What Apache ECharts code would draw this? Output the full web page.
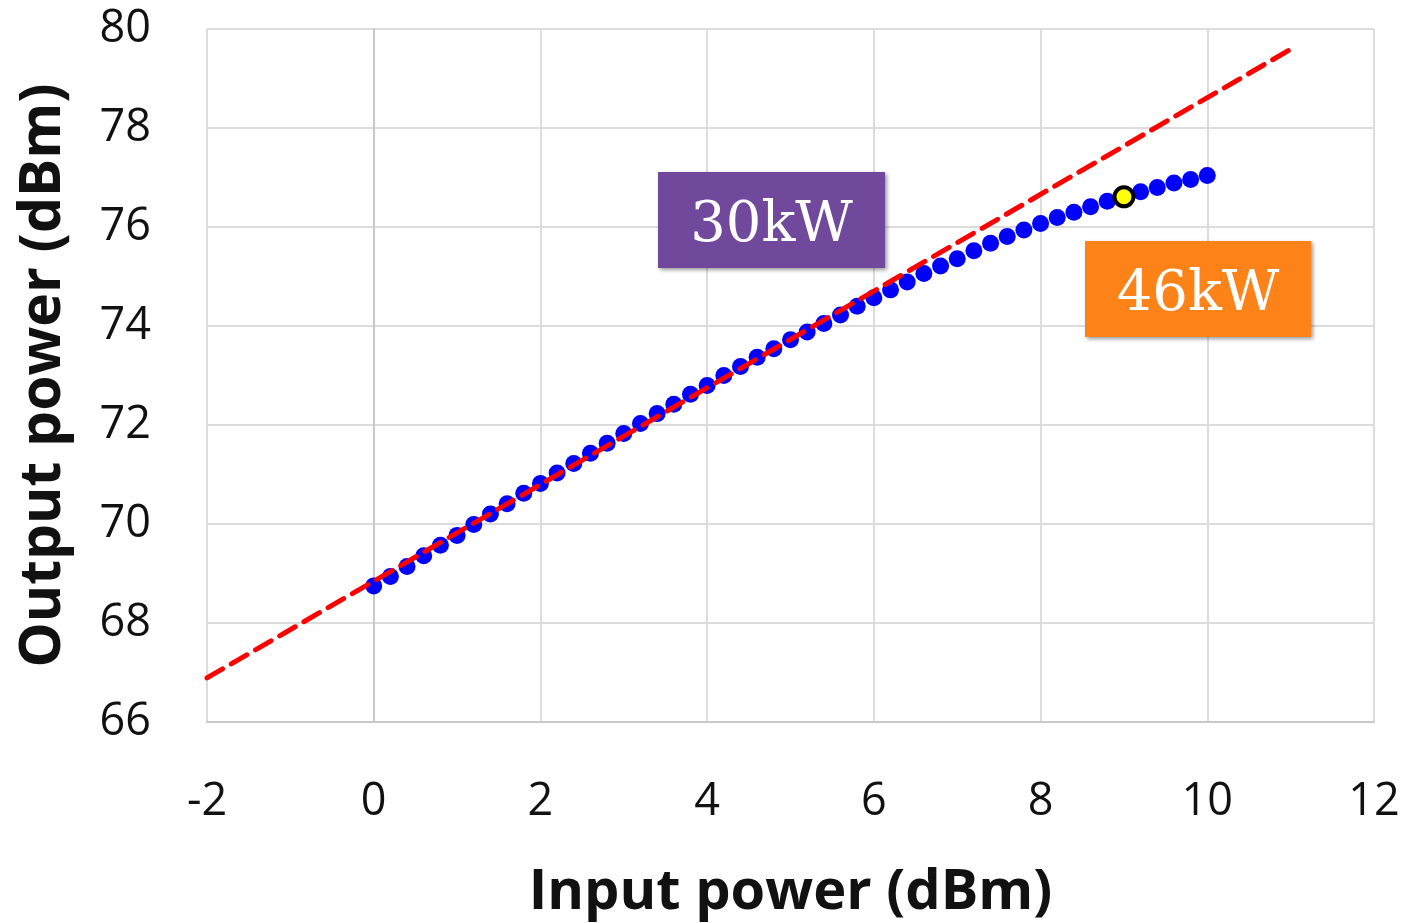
<!DOCTYPE html>
<html>
<head>
<meta charset="utf-8">
<script src="https://cdn.jsdelivr.net/npm/echarts@6/dist/echarts.min.js"></script>
<style>
  html, body { margin: 0; padding: 0; background: #fff; }
  #chart { width: 1410px; height: 923px; }
</style>
</head>
<body>
<div id="chart"></div>
<script>
// input power (dBm), 0.2 dB steps
const inputPower = [
  0.0, 0.2, 0.4, 0.6, 0.8, 1.0, 1.2, 1.4, 1.6, 1.8,
  2.0, 2.2, 2.4, 2.6, 2.8, 3.0, 3.2, 3.4, 3.6, 3.8,
  4.0, 4.2, 4.4, 4.6, 4.8, 5.0, 5.2, 5.4, 5.6, 5.8,
  6.0, 6.2, 6.4, 6.6, 6.8, 7.0, 7.2, 7.4, 7.6, 7.8,
  8.0, 8.2, 8.4, 8.6, 8.8, 9.0, 9.2, 9.4, 9.6, 9.8, 10.0
];
// measured output power (dBm)
const outputPower = [
  68.75, 68.94, 69.14, 69.36, 69.57, 69.77, 69.99, 70.20, 70.41, 70.62,
  70.82, 71.03, 71.22, 71.43, 71.63, 71.83, 72.03, 72.23, 72.42, 72.62,
  72.80, 73.00, 73.18, 73.37, 73.54, 73.72, 73.88, 74.05, 74.22, 74.40,
  74.57, 74.73, 74.89, 75.06, 75.21, 75.36, 75.52, 75.67, 75.81, 75.94,
  76.07, 76.19, 76.30, 76.41, 76.52, 76.61, 76.71, 76.80, 76.89, 76.96, 77.04
];
// linear reference (dashed)
const linearX = [-2, 11];
const linearY = [66.89, 79.59];
// highlighted point (46 kW)
const markX = [9.0];
const markY = [76.61];

const xTicks = [-2, 0, 2, 4, 6, 8, 10, 12];
const yTicks = [66, 68, 70, 72, 74, 76, 78, 80];

const chart = echarts.init(document.getElementById('chart'));

const zip = (a, b) => a.map((v, i) => [v, b[i]]);
const font = '"Open Sans", "DejaVu Sans", sans-serif';
const serif = '56px "DejaVu Serif", "Liberation Serif", serif';

function labelBox(left, top, w, h, fill, text) {
  return {
    type: 'group',
    left: left, top: top,
    z: 100,
    children: [{
      type: 'rect',
      z: 100,
      shape: { x: 0, y: 0, width: w, height: h },
      style: { fill: fill, shadowBlur: 4, shadowOffsetX: 2, shadowOffsetY: 2, shadowColor: 'rgba(0,0,0,0.4)' }
    }, {
      type: 'text',
      z: 101,
      x: w / 2, y: h / 2 + 6,
      style: { text: text, fill: '#fff', font: serif, align: 'center', verticalAlign: 'middle' }
    }]
  };
}

var option = {
  animation: false,
  grid: { left: 207, right: 36, top: 29, bottom: 201, outerBoundsMode: 'none', containLabel: false },
  xAxis: {
    type: 'value',
    min: xTicks[0],
    max: xTicks[xTicks.length - 1],
    interval: 2,
    name: 'Input power (dBm)',
    nameLocation: 'middle',
    nameGap: 143,
    nameTextStyle: { fontFamily: font, fontWeight: 'bold', fontSize: 56, color: '#111' },
    axisLine: { lineStyle: { color: '#c8c8c8', width: 2 } },
    axisTick: { show: false },
    axisLabel: { margin: 58, fontFamily: font, fontSize: 45, color: '#111' },
    splitLine: { lineStyle: { color: '#dcdcdc', width: 2 } }
  },
  yAxis: {
    type: 'value',
    min: yTicks[0],
    max: yTicks[yTicks.length - 1],
    interval: 2,
    name: 'Output power (dBm)',
    nameLocation: 'middle',
    nameRotate: 90,
    nameGap: 135,
    nameTextStyle: { fontFamily: font, fontWeight: 'bold', fontSize: 57, color: '#111' },
    axisLine: { show: true, lineStyle: { color: '#c8c8c8', width: 2 } },
    axisTick: { show: false },
    axisLabel: { margin: 56, fontFamily: font, fontSize: 45, color: '#111' },
    splitLine: { lineStyle: { color: '#dcdcdc', width: 2 } }
  },
  series: [{
    name: 'measured',
    type: 'scatter',
    symbol: 'circle',
    symbolSize: 17,
    itemStyle: { color: '#0000ff', opacity: 1 },
    data: zip(inputPower, outputPower),
    z: 2
  }, {
    name: 'linear',
    type: 'line',
    showSymbol: false,
    symbol: 'none',
    lineStyle: { color: '#ff0000', width: 5, type: [18, 10], cap: 'round' },
    data: zip(linearX, linearY),
    z: 3
  }, {
    name: 'point',
    type: 'scatter',
    symbolSize: 19,
    itemStyle: { color: '#ffff00', borderColor: '#000', borderWidth: 4, opacity: 1 },
    data: zip(markX, markY),
    z: 4
  }],
  graphic: {
    elements: [
      labelBox(658, 172, 227, 96, '#70489c', '30kW'),
      labelBox(1085, 241, 226, 96, '#fd8217', '46kW')
    ]
  }
};

chart.setOption(option);
</script>
</body>
</html>
